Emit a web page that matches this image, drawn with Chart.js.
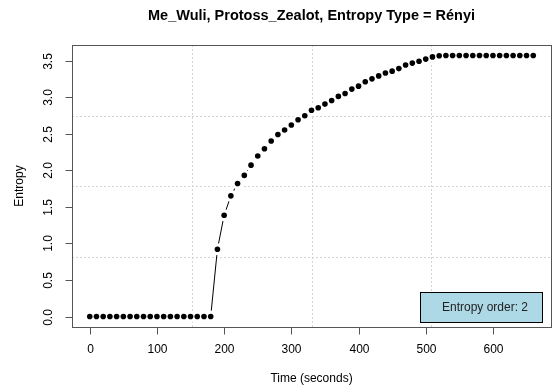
<!DOCTYPE html>
<html>
<head>
<meta charset="utf-8">
<script src="https://cdn.jsdelivr.net/npm/chart.js@4"></script>
<style>body{margin:0;background:#fff}</style>
</head>
<body>
<canvas id="grafico" width="557" height="391"></canvas>
<script>
const tempos = [0, 10, 20, 30, 40, 50, 60, 70, 80, 90, 100, 110, 120, 130, 140, 150, 160, 170, 180,
  190, 200, 210, 220, 230, 240, 250, 260, 270, 280, 290, 300, 310, 320, 330, 340, 350, 360, 370, 380,
  390, 400, 410, 420, 430, 440, 450, 460, 470, 480, 490, 500, 510, 520,
  530, 540, 550, 560, 570, 580, 590, 600, 610, 620, 630, 640, 650, 660];
const entropia = [0, 0, 0, 0, 0, 0, 0, 0, 0, 0, 0, 0, 0, 0, 0, 0, 0, 0, 0,
  0.92, 1.385, 1.65, 1.82, 1.93, 2.07, 2.195, 2.295, 2.40, 2.49, 2.55, 2.62, 2.69, 2.745, 2.82, 2.855,
  2.905, 2.955, 3.01, 3.05, 3.11, 3.15, 3.21, 3.25, 3.29, 3.33, 3.355, 3.39, 3.44, 3.465, 3.49, 3.52,
  3.55, 3.565,
  3.57, 3.57, 3.57, 3.57, 3.57, 3.57, 3.57, 3.57, 3.57, 3.57, 3.57, 3.57, 3.57, 3.57];
const ticksX = [0, 100, 200, 300, 400, 500, 600];
const ticksY = [0, 0.5, 1, 1.5, 2, 2.5, 3, 3.5];
const rotulosY = ['0.0', '0.5', '1.0', '1.5', '2.0', '2.5', '3.0', '3.5'];
const titulo = 'Me_Wuli, Protoss_Zealot, Entropy Type = Rényi';
const rotuloX = 'Time (seconds)';
const rotuloY = 'Entropy';
const legendaTexto = 'Entropy order: 2';

const fonte = '"Liberation Sans", Arial, sans-serif';

// faixa estendida 4% como no R
const xMin = -26.4, xMax = 686.4;
const yMin = -0.1428, yMax = 3.7128;

const pontos = tempos.map((t, i) => ({ x: t, y: entropia[i] }));

const eixosR = {
  id: 'eixosR',
  beforeDatasetsDraw(chart) {
    const { ctx, chartArea: a } = chart;
    ctx.save();
    ctx.strokeStyle = '#d3d3d3';
    ctx.lineWidth = 1;
    ctx.setLineDash([2, 2]);
    for (let i = 1; i < 4; i++) {
      const x = Math.round(a.left + (a.right - a.left) * i / 4) + 0.5;
      ctx.beginPath(); ctx.moveTo(x, a.top); ctx.lineTo(x, a.bottom); ctx.stroke();
      const y = Math.round(a.top + (a.bottom - a.top) * i / 4) + 0.5;
      ctx.beginPath(); ctx.moveTo(a.left, y); ctx.lineTo(a.right, y); ctx.stroke();
    }
    ctx.restore();
  },
  afterDatasetsDraw(chart) {
    const { ctx, chartArea: a, scales } = chart;
    const sx = scales.x, sy = scales.y;
    ctx.save();
    ctx.setLineDash([]);
    ctx.strokeStyle = '#555';
    ctx.lineWidth = 1;
    // caixa
    ctx.strokeRect(Math.round(a.left) + 0.5, Math.round(a.top) + 0.5,
      Math.round(a.right - a.left), Math.round(a.bottom - a.top));

    ctx.fillStyle = '#000';
    ctx.font = '12px ' + fonte;
    // eixo x
    const x0 = Math.round(sx.getPixelForValue(ticksX[0])) + 0.5;
    const x1 = Math.round(sx.getPixelForValue(ticksX[ticksX.length - 1])) + 0.5;
    const yb = Math.round(a.bottom) + 0.5;
    ctx.beginPath(); ctx.moveTo(x0, yb); ctx.lineTo(x1, yb); ctx.stroke();
    ctx.textAlign = 'center';
    ctx.textBaseline = 'middle';
    ticksX.forEach(v => {
      const x = Math.round(sx.getPixelForValue(v)) + 0.5;
      ctx.beginPath(); ctx.moveTo(x, yb); ctx.lineTo(x, yb + 7); ctx.stroke();
      ctx.fillText(String(v), x, a.bottom + 22.5);
    });
    // eixo y
    const xl = Math.round(a.left) + 0.5;
    ticksY.forEach((v, i) => {
      const y = Math.round(sy.getPixelForValue(v)) + 0.5;
      ctx.beginPath(); ctx.moveTo(xl, y); ctx.lineTo(xl - 7, y); ctx.stroke();
      ctx.save();
      ctx.translate(a.left - 23, y);
      ctx.rotate(-Math.PI / 2);
      ctx.fillText(rotulosY[i], 0, 0);
      ctx.restore();
    });
    // rótulos dos eixos
    const cx = (a.left + a.right) / 2;
    const cy = (a.top + a.bottom) / 2;
    ctx.fillText(rotuloX, cx, 379);
    ctx.save();
    ctx.translate(20, cy);
    ctx.rotate(-Math.PI / 2);
    ctx.fillText(rotuloY, 0, 0);
    ctx.restore();
    // título
    ctx.font = 'bold 14.5px ' + fonte;
    ctx.fillText(titulo, cx, 16);

    // legenda
    const lw = 122, lh = 30;
    const lx = Math.round(a.right - 9 - lw), ly = Math.round(a.bottom - 5 - lh);
    ctx.fillStyle = '#add8e6';
    ctx.fillRect(lx, ly, lw, lh);
    ctx.strokeStyle = '#000';
    ctx.strokeRect(lx + 0.5, ly + 0.5, lw, lh);
    ctx.fillStyle = '#222';
    ctx.font = '12px ' + fonte;
    ctx.textAlign = 'left';
    ctx.fillText(legendaTexto, lx + 22, ly + lh / 2 + 1);
    ctx.restore();
  }
};

new Chart(document.getElementById('grafico'), {
  type: 'scatter',
  data: {
    datasets: [
      // linha (type = "b" do R: linha com folga em volta dos pontos)
      { data: pontos, showLine: true, borderColor: '#000', borderWidth: 1, pointRadius: 0, tension: 0, order: 3 },
      { data: pontos, pointRadius: 6, pointBorderWidth: 0, pointBackgroundColor: '#fff', order: 2 },
      { data: pontos, pointRadius: 2.8, pointBorderWidth: 0, pointBackgroundColor: '#000', order: 1 }
    ]
  },
  options: {
    responsive: false,
    animation: false,
    layout: { padding: { left: 72, right: 4, top: 45, bottom: 64 } },
    scales: {
      x: { type: 'linear', min: xMin, max: xMax, display: false },
      y: { type: 'linear', min: yMin, max: yMax, display: false }
    },
    plugins: { legend: { display: false }, tooltip: { enabled: false } }
  },
  plugins: [eixosR]
});
</script>
</body>
</html>
